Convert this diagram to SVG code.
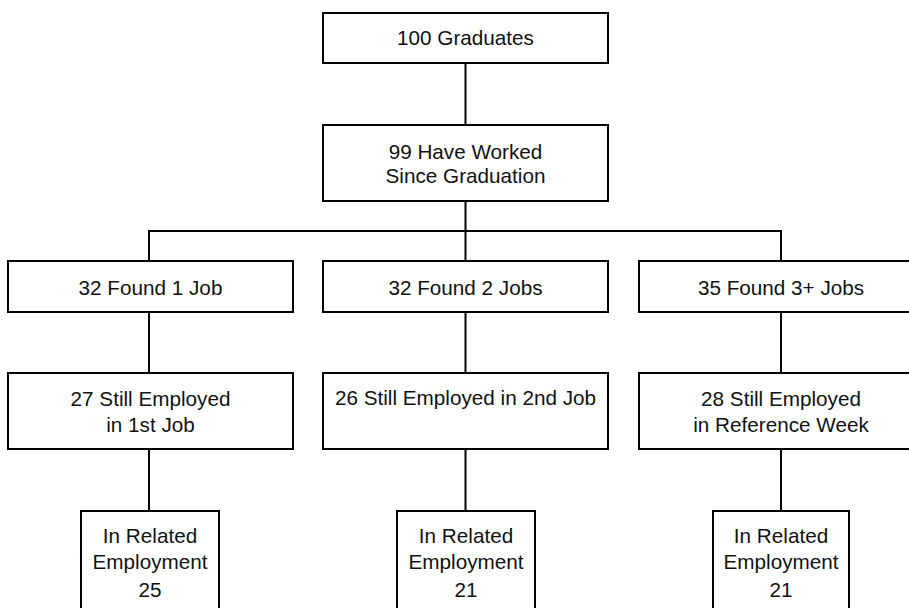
<svg xmlns="http://www.w3.org/2000/svg" width="909" height="608" viewBox="0 0 909 608">
<style>
.box{fill:#fff;stroke:#000;stroke-width:2}
.ln{stroke:#000;stroke-width:2;fill:none}
text{font-family:"Liberation Sans",Arial,sans-serif;font-size:20.7px;fill:#111;text-anchor:middle}
</style>
<rect width="909" height="608" fill="#fff"/>
<g id="connectors">
<line class="ln" x1="465.5" y1="63" x2="465.5" y2="125"/>
<line class="ln" x1="465.5" y1="201" x2="465.5" y2="261"/>
<line class="ln" x1="149" y1="231" x2="781" y2="231"/>
<line class="ln" x1="149" y1="230" x2="149" y2="261"/>
<line class="ln" x1="781" y1="230" x2="781" y2="261"/>
<line class="ln" x1="149" y1="312" x2="149" y2="373"/>
<line class="ln" x1="465.5" y1="312" x2="465.5" y2="373"/>
<line class="ln" x1="781" y1="312" x2="781" y2="373"/>
<line class="ln" x1="149" y1="449" x2="149" y2="511"/>
<line class="ln" x1="465.5" y1="449" x2="465.5" y2="511"/>
<line class="ln" x1="781" y1="449" x2="781" y2="511"/>
</g>
<g id="n1"><rect class="box" x="323" y="13" width="285" height="50"/><text x="465.5" y="44.5">100 Graduates</text></g>
<g id="n2"><rect class="box" x="323" y="125" width="285" height="76"/><text x="465.5" y="158.5">99 Have Worked</text><text x="465.5" y="183">Since Graduation</text></g>
<g id="n3"><rect class="box" x="8" y="261" width="285" height="51"/><text x="150.5" y="295">32 Found 1 Job</text></g>
<g id="n4"><rect class="box" x="323" y="261" width="285" height="51"/><text x="465.5" y="295">32 Found 2 Jobs</text></g>
<g id="n5"><rect class="box" x="639" y="261" width="284" height="51"/><text x="781" y="295">35 Found 3+ Jobs</text></g>
<g id="n6"><rect class="box" x="8" y="373" width="285" height="76"/><text x="150.5" y="405.5">27 Still Employed</text><text x="150.5" y="432">in 1st Job</text></g>
<g id="n7"><rect class="box" x="323" y="373" width="285" height="76"/><text x="465.5" y="405">26 Still Employed in 2nd Job</text></g>
<g id="n8"><rect class="box" x="639" y="373" width="284" height="76"/><text x="781" y="405.5">28 Still Employed</text><text x="781" y="432">in Reference Week</text></g>
<g id="n9"><rect class="box" x="81" y="511" width="138" height="110"/><text x="150" y="543">In Related</text><text x="150" y="569">Employment</text><text x="150" y="596.5">25</text></g>
<g id="n10"><rect class="box" x="397" y="511" width="138" height="110"/><text x="466" y="543">In Related</text><text x="466" y="569">Employment</text><text x="466" y="596.5">21</text></g>
<g id="n11"><rect class="box" x="713" y="511" width="136" height="110"/><text x="781" y="543">In Related</text><text x="781" y="569">Employment</text><text x="781" y="596.5">21</text></g>
</svg>
